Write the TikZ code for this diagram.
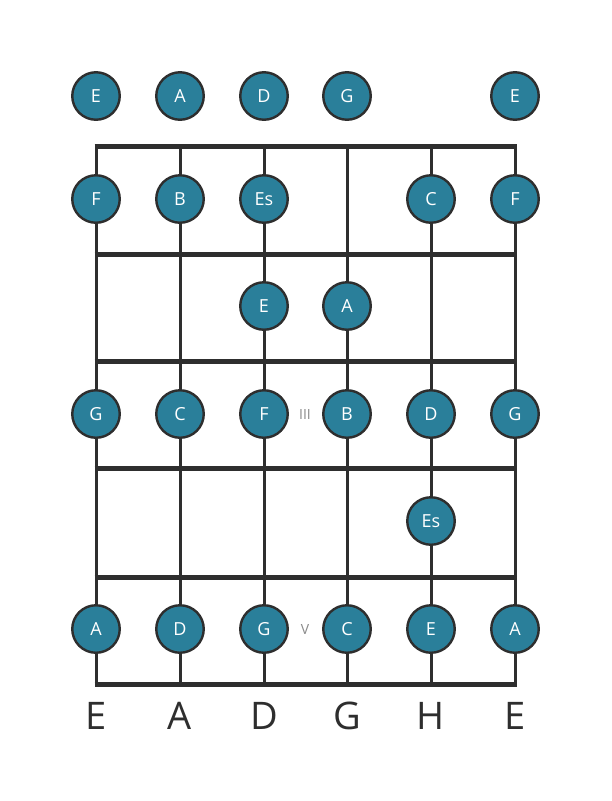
\documentclass[tikz,border=0pt]{standalone}
\usepackage{fontspec}
\setmainfont{Open Sans}
\definecolor{dotfill}{HTML}{2A7F9A}
\definecolor{ink}{HTML}{2E2E2E}
\definecolor{markgray}{HTML}{8A8A8A}
\begin{document}
\begin{tikzpicture}[x=1pt,y=-1pt,
  note/.style={circle,draw=ink,line width=2.4pt,fill=dotfill,minimum size=47.5pt,inner sep=0pt,text=white,font=\fontsize{18}{18}\selectfont},
  stringline/.style={draw=ink,line width=3pt},
  fretline/.style={draw=ink,line width=5pt},
  strname/.style={text=ink,font=\fontsize{38}{38}\selectfont,inner sep=0pt},
  fretmark/.style={text=markgray,font=\fontsize{14}{14}\selectfont,inner sep=0pt}]
\useasboundingbox (0,0) rectangle (611,801);
\fill[white] (0,0) rectangle (611,801);
% strings
\foreach \i/\x in {1/96,2/180,3/264,4/347,5/431,6/515}{
  \coordinate (st\i) at (\x,146);
  \coordinate (sb\i) at (\x,684);
  \draw[stringline] (st\i) -- (sb\i);
}
% frets
\foreach \j/\y in {0/146,1/254,2/361,3/468,4/577,5/684}{
  \coordinate (fl\j) at (94.5,\y);
  \coordinate (fr\j) at (516.5,\y);
  \draw[fretline] (fl\j) -- (fr\j);
}
% open strings
\node[note] (o1) at (96,96) {E};
\node[note] (o2) at (180,96) {A};
\node[note] (o3) at (264,96) {D};
\node[note] (o4) at (347,96) {G};
\node[note] (o6) at (515,96) {E};
% fret 1
\node[note] (a1) at (96,199) {F};
\node[note] (a2) at (180,199) {B};
\node[note] (a3) at (264,199) {Es};
\node[note] (a5) at (431,199) {C};
\node[note] (a6) at (515,199) {F};
% fret 2
\node[note] (b3) at (264,306) {E};
\node[note] (b4) at (347,306) {A};
% fret 3
\node[note] (c1) at (96,414) {G};
\node[note] (c2) at (180,414) {C};
\node[note] (c3) at (264,414) {F};
\node[note] (c4) at (347,414) {B};
\node[note] (c5) at (431,414) {D};
\node[note] (c6) at (515,414) {G};
% fret 4
\node[note] (d5) at (431,521) {Es};
% fret 5
\node[note] (e1) at (96,629) {A};
\node[note] (e2) at (180,629) {D};
\node[note] (e3) at (264,629) {G};
\node[note] (e4) at (347,629) {C};
\node[note] (e5) at (431,629) {E};
\node[note] (e6) at (515,629) {A};
% fret markers
\node[fretmark] (m3) at (305,414) {III};
\node[fretmark] (m5) at (305,629) {V};
% string names
\node[strname] (n1) at (96,716) {E};
\node[strname] (n2) at (180,716) {A};
\node[strname] (n3) at (264,716) {D};
\node[strname] (n4) at (347,716) {G};
\node[strname] (n5) at (431,716) {H};
\node[strname] (n6) at (515,716) {E};
\end{tikzpicture}
\end{document}
